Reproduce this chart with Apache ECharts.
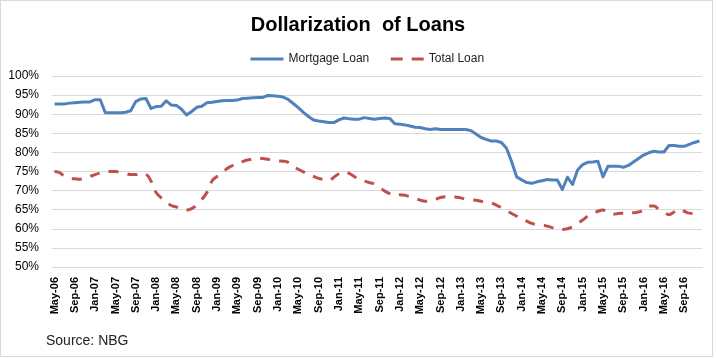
<!DOCTYPE html>
<html>
<head>
<meta charset="utf-8">
<script src="https://cdn.jsdelivr.net/npm/echarts@6/dist/echarts.min.js"></script>
<style>
  html, body { margin: 0; padding: 0; background: #fff; }
  #wrap { position: relative; width: 716px; height: 358px; }
  #frame { position: absolute; left: 0; top: 0; width: 711px; height: 355px; border: 1px solid #d9d9d9; pointer-events: none; }
  #chart { position: absolute; left: 0; top: 0; width: 716px; height: 358px; }
</style>
</head>
<body>
<div id="wrap"><div id="chart"></div><div id="frame"></div></div>
<script>
// Monthly categories, May-06 .. Dec-16
const categories = [
  'May-06','Jun-06','Jul-06','Aug-06','Sep-06','Oct-06','Nov-06','Dec-06',
  'Jan-07','Feb-07','Mar-07','Apr-07','May-07','Jun-07','Jul-07','Aug-07','Sep-07','Oct-07','Nov-07','Dec-07',
  'Jan-08','Feb-08','Mar-08','Apr-08','May-08','Jun-08','Jul-08','Aug-08','Sep-08','Oct-08','Nov-08','Dec-08',
  'Jan-09','Feb-09','Mar-09','Apr-09','May-09','Jun-09','Jul-09','Aug-09','Sep-09','Oct-09','Nov-09','Dec-09',
  'Jan-10','Feb-10','Mar-10','Apr-10','May-10','Jun-10','Jul-10','Aug-10','Sep-10','Oct-10','Nov-10','Dec-10',
  'Jan-11','Feb-11','Mar-11','Apr-11','May-11','Jun-11','Jul-11','Aug-11','Sep-11','Oct-11','Nov-11','Dec-11',
  'Jan-12','Feb-12','Mar-12','Apr-12','May-12','Jun-12','Jul-12','Aug-12','Sep-12','Oct-12','Nov-12','Dec-12',
  'Jan-13','Feb-13','Mar-13','Apr-13','May-13','Jun-13','Jul-13','Aug-13','Sep-13','Oct-13','Nov-13','Dec-13',
  'Jan-14','Feb-14','Mar-14','Apr-14','May-14','Jun-14','Jul-14','Aug-14','Sep-14','Oct-14','Nov-14','Dec-14',
  'Jan-15','Feb-15','Mar-15','Apr-15','May-15','Jun-15','Jul-15','Aug-15','Sep-15','Oct-15','Nov-15','Dec-15',
  'Jan-16','Feb-16','Mar-16','Apr-16','May-16','Jun-16','Jul-16','Aug-16','Sep-16','Oct-16','Nov-16','Dec-16'
];

const mortgageLoan = [
  92.7, 92.7, 92.7, 92.9, 93.0, 93.1, 93.2, 93.2,
  93.8, 93.8, 90.4, 90.4, 90.4, 90.4, 90.5, 90.9, 93.3, 94.0, 94.1, 91.5,
  92.0, 92.1, 93.5, 92.4, 92.3, 91.3, 89.8, 90.7, 91.8, 92.1, 93.0, 93.1,
  93.3, 93.5, 93.6, 93.6, 93.7, 94.1, 94.2, 94.3, 94.4, 94.4, 94.9, 94.8,
  94.7, 94.5, 93.9, 92.8, 91.7, 90.5, 89.4, 88.5, 88.2, 88.0, 87.8, 87.8,
  88.5, 89.0, 88.8, 88.7, 88.7, 89.1, 88.9, 88.7, 88.9, 89.0, 88.9, 87.5,
  87.4, 87.2, 86.9, 86.6, 86.5, 86.2, 86.0, 86.2, 86.0, 86.0, 86.0, 86.0,
  86.0, 86.0, 85.7, 84.8, 83.9, 83.4, 83.0, 83.0, 82.6, 81.1, 77.6, 73.6,
  72.8, 72.1, 71.9, 72.3, 72.6, 72.9, 72.8, 72.8, 70.3, 73.5, 71.6, 75.4,
  76.8, 77.4, 77.5, 77.7, 73.6, 76.4, 76.4, 76.4, 76.1, 76.6, 77.5, 78.4,
  79.3, 79.9, 80.3, 80.1, 80.1, 81.8, 81.8, 81.6, 81.6, 82.1, 82.6, 83.0
];

const totalLoan = [
  75.0, 74.7, 73.7, 73.2, 73.1, 73.0, 73.2, 73.7,
  74.2, 74.6, 74.9, 75.0, 75.0, 74.7, 74.5, 74.2, 74.2, 74.5, 74.3, 72.5,
  69.5, 68.1, 67.0, 66.1, 65.7, 65.3, 64.9, 65.3, 66.3, 67.7, 69.5, 72.5,
  73.7, 74.7, 75.8, 76.5, 77.1, 77.6, 78.0, 78.2, 78.5, 78.4, 78.2, 78.0,
  77.8, 77.7, 77.4, 76.3, 75.6, 74.9, 74.2, 73.7, 73.2, 72.9, 72.6, 73.5,
  74.4, 74.9, 74.5, 73.7, 72.8, 72.5, 72.1, 71.7, 70.8, 69.9, 69.2, 68.8,
  68.9, 68.8, 68.4, 68.0, 67.5, 67.2, 67.5, 67.7, 68.2, 68.4, 68.4, 68.3,
  68.1, 67.7, 67.6, 67.5, 67.2, 67.0, 66.8, 66.2, 65.5, 64.8, 64.0, 63.3,
  62.6, 62.0, 61.4, 61.1, 60.9, 60.7, 60.3, 60.0, 59.8, 60.0, 60.5, 61.4,
  62.3, 63.3, 64.0, 64.6, 64.9, 64.4, 63.8, 64.0, 64.1, 64.2, 64.2, 64.4,
  64.9, 66.0, 66.0, 65.1, 64.4, 63.7, 64.4, 65.1, 64.6, 64.1, 64.0, 64.7
];

const seriesNames = ['Mortgage Loan', 'Total Loan'];
const titleText = 'Dollarization  of Loans';
const sourceText = 'Source: NBG';

const FONT = '"Liberation Sans", Arial, sans-serif';
const chart = echarts.init(document.getElementById('chart'), null, { renderer: 'canvas' });
chart.setOption({
  animation: false,
  backgroundColor: '#fff',
  textStyle: { fontFamily: FONT },
  title: {
    text: titleText,
    left: 'center',
    top: 10,
    textStyle: { fontFamily: FONT, fontSize: 20, fontWeight: 'bold', color: '#000' }
  },
  legend: {
    top: 48,
    left: 244,
    itemWidth: 33,
    itemHeight: 12,
    itemGap: 20,
    data: [
      { name: seriesNames[0], lineStyle: { width: 3 } },
      { name: seriesNames[1], lineStyle: { width: 3, type: [12, 9] } }
    ],
    itemStyle: { opacity: 0 },
    textStyle: { fontFamily: FONT, fontSize: 12, color: '#222' }
  },
  graphic: [{
    type: 'text',
    left: 46,
    top: 334,
    style: { text: sourceText, font: '14px ' + FONT, fill: '#222' }
  }],
  grid: { left: 52, right: 14, top: 76, bottom: 91, containLabel: false },
  xAxis: {
    type: 'category',
    data: categories,
    boundaryGap: true,
    axisLine: { show: true, lineStyle: { color: '#d9d9d9', width: 1 } },
    axisTick: { show: false },
    axisLabel: {
      interval: 3,
      rotate: 90,
      margin: 10,
      fontFamily: FONT,
      fontSize: 11,
      fontWeight: 'bold',
      color: '#000'
    },
    splitLine: { show: false }
  },
  yAxis: {
    type: 'value',
    min: 50,
    max: 100,
    interval: 5,
    axisLine: { show: false },
    axisTick: { show: false },
    axisLabel: {
      formatter: '{value}%',
      margin: 13,
      fontFamily: FONT,
      fontSize: 12,
      color: '#000'
    },
    splitLine: { lineStyle: { color: '#d9d9d9', width: 1 } }
  },
  series: [
    {
      name: seriesNames[0],
      type: 'line',
      data: mortgageLoan,
      symbol: 'none',
      smooth: false,
      lineStyle: { color: '#4F81BD', width: 3, join: 'round' },
      itemStyle: { color: '#4F81BD' }
    },
    {
      name: seriesNames[1],
      type: 'line',
      data: totalLoan,
      symbol: 'none',
      smooth: 0.4,
      lineStyle: { color: '#C0504D', width: 3, type: [10, 9] },
      itemStyle: { color: '#C0504D' }
    }
  ]
});
</script>
</body>
</html>
